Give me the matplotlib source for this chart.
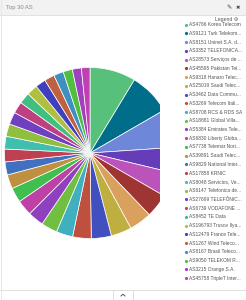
import matplotlib
matplotlib.use("Agg")
import matplotlib.pyplot as plt
from matplotlib.patches import Rectangle

# Top 30 AS share (relative)
as_labels = [
    "AS4766 Korea Telecom", "AS9121 Turk Telekom...", "AS8151 Uninet S.A. d...",
    "AS3352 TELEFONICA...", "AS28573 Serviços de ...", "AS45595 Pakistan Tel...",
    "AS9318 Hanaro Telec...", "AS25019 Saudi Telec...", "AS3462 Data Commu...",
    "AS3269 Telecom Itali...", "AS8708 RCS & RDS SA", "AS18881 Global Villa...",
    "AS5384 Emirates Tele...", "AS6830 Liberty Globa...", "AS7738 Telemar Nort...",
    "AS39891 Saudi Telec...", "AS9829 National Inter...", "AS17858 KRNIC",
    "AS8048 Servicios, Ve...", "AS6147 Telefonica de...", "AS27699 TELEFÔNIC...",
    "AS6739 VODAFONE ...", "AS8452 TE Data", "AS196793 Trusov Ilya...",
    "AS12479 France Tele...", "AS1267 Wind Teleco...", "AS8167 Brasil Teleco...",
    "AS9050 TELEKOM R...", "AS3215 Orange S.A.", "AS45758 TripleT Inter...",
]
as_share = [
    31.2, 28.6, 26.2, 17.2, 16.6, 16.0, 15.3, 14.0, 13.6, 12.6,
    11.2, 11.0, 10.8, 10.6, 10.0, 9.6, 8.8, 8.7, 8.6, 8.5,
    8.3, 7.9, 7.6, 7.4, 7.1, 6.9, 6.6, 6.3, 6.1, 5.8,
]
as_colors = [
    "#57c17b", "#006e8a", "#6f87d8", "#663db8", "#bc52bc", "#9e3533",
    "#daa05d", "#bfaf40", "#4050bf", "#bf5040", "#40afbf", "#70bf40",
    "#8f40bf", "#bf40a7", "#40bf50", "#bf9040", "#4070bf", "#bf4050",
    "#40bfaf", "#90bf40", "#7040bf", "#bf4080", "#40bf80", "#b0bf40",
    "#4040bf", "#bf6040", "#4090bf", "#50bf40", "#a040bf", "#bf40b0",
]

W, H = 246, 300
fig = plt.figure(figsize=(W / 100, H / 100), dpi=100)
fig.patch.set_facecolor("white")
plt.rcParams["font.family"] = ["Liberation Sans", "DejaVu Sans"]

# pie area, clipped on the right by the legend column
px_left, px_right, px_top, px_bot = 0, 160, 16, 289
ax = fig.add_axes([px_left / W, (H - px_bot) / H,
                   (px_right - px_left) / W, (px_bot - px_top) / H])
wedges, _ = ax.pie(as_share, colors=as_colors, startangle=90, counterclock=False,
                   center=(90, H - 153), radius=85.5,
                   wedgeprops=dict(edgecolor="white", linewidth=0.5))
ax.set_xlim(px_left, px_right)
ax.set_ylim(H - px_bot, H - px_top)
ax.set_aspect("auto")
ax.axis("off")
for w in wedges:
    w.set_clip_on(True)
    w.set_clip_path(ax.patch)

# overlay axes in pixel coordinates for the panel chrome and legend
ov = fig.add_axes([0, 0, 1, 1], facecolor="none")
ov.set_xlim(0, W)
ov.set_ylim(H, 0)
ov.axis("off")

# header bar
ov.add_patch(Rectangle((0, 0), W, 15, facecolor="#f2f2f2", edgecolor="none"))
ov.plot([0, W], [15, 15], color="#dcdcdc", lw=0.6)
ov.text(6, 7.5, "Top 30 AS", fontsize=4.2, color="#8a8a8a", va="center", ha="left")
ov.text(229, 7.5, "\u270e", fontsize=4.5, color="#444444", va="center", ha="center",
        family="DejaVu Sans")
ov.text(237.5, 7.5, "\u2716", fontsize=3.8, color="#444444", va="center", ha="center",
        family="DejaVu Sans")

# panel border
ov.plot([0.5, 0.5], [0, H], color="#e4e4e4", lw=0.6)
ov.plot([W - 0.5, W - 0.5], [0, H], color="#e4e4e4", lw=0.6)

# legend
ov.text(238, 19.5, "Legend \u2699", fontsize=3.7, color="#555555", va="center",
        ha="right", family=["Liberation Sans", "DejaVu Sans"])
y0, dy = 24.6, 8.74
for i, (lab, col) in enumerate(zip(as_labels, as_colors)):
    y = y0 + i * dy
    ov.plot(185.5, y, "o", ms=2.3, color=col, mec="none")
    ov.text(188.8, y, lab, fontsize=3.55, color="#555555", va="center", ha="left")

# bottom bar with collapse tab
ov.plot([0, W], [289.5, 289.5], color="#dcdcdc", lw=0.6)
ov.add_patch(Rectangle((113, 289.5), 20, 12, facecolor="white",
                       edgecolor="#dcdcdc", lw=0.6))
ov.plot([121, 123, 125], [296, 294.2, 296], color="#555555", lw=0.7)

fig.savefig("out.png", dpi=100, facecolor="white")
